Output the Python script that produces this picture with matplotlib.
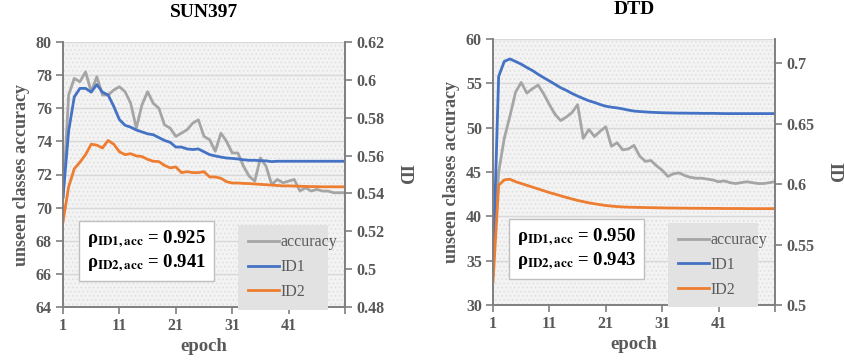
import matplotlib
matplotlib.use("Agg")
import matplotlib.pyplot as plt
from matplotlib.patches import Rectangle

plt.rcParams["font.family"] = ["Liberation Serif", "DejaVu Serif"]
plt.rcParams["mathtext.fontset"] = "stix"
plt.rcParams["hatch.linewidth"] = 0.6

epochs = list(range(1, 52))
epoch_ticks = [1, 11, 21, 31, 41, 51]
epoch_labels = ["1", "11", "21", "31", "41", ""]

# SUN397
sun_acc = [70.6, 76.8, 77.8, 77.6, 78.2, 77.0, 77.9, 76.8, 76.8, 77.1,
           77.3, 77.0, 76.3, 74.8, 76.2, 77.0, 76.3, 76.0, 75.0, 74.8,
           74.3, 74.5, 74.7, 75.1, 75.3, 74.3, 74.1, 73.4, 74.5, 74.0,
           73.3, 73.3, 72.5, 71.9, 71.6, 73.0, 72.5, 71.4, 71.7, 71.5,
           71.6, 71.7, 71.0, 71.2, 71.0, 71.1, 71.0, 71.0, 70.9, 70.9, 70.9]
sun_id1 = [0.538, 0.573, 0.591, 0.5955, 0.5955, 0.5935, 0.5975, 0.5935, 0.592, 0.586,
           0.579, 0.576, 0.575, 0.5735, 0.5725, 0.5715, 0.571, 0.5695, 0.568, 0.567,
           0.5645, 0.5645, 0.5635, 0.5632, 0.5635, 0.562, 0.5605, 0.5598, 0.5592, 0.5587,
           0.5585, 0.5582, 0.5578, 0.5575, 0.5575, 0.5573, 0.5572, 0.5568, 0.557, 0.557,
           0.557, 0.557, 0.557, 0.557, 0.557, 0.557, 0.557, 0.557, 0.557, 0.557, 0.557]
sun_id2 = [0.525, 0.5435, 0.553, 0.5565, 0.5605, 0.566, 0.5655, 0.564, 0.568, 0.566,
           0.562, 0.5605, 0.561, 0.5598, 0.5595, 0.558, 0.557, 0.5568, 0.5548, 0.5535,
           0.554, 0.551, 0.5515, 0.551, 0.551, 0.5515, 0.5487, 0.5487, 0.548, 0.5462,
           0.5455, 0.5455, 0.5453, 0.5452, 0.545, 0.5448, 0.5446, 0.5444, 0.5442, 0.544,
           0.544, 0.5439, 0.5438, 0.5437, 0.5436, 0.5436, 0.5435, 0.5435, 0.5435, 0.5435, 0.5435]

# DTD
dtd_acc = [34.2, 45.0, 48.8, 51.3, 54.0, 55.1, 53.9, 54.4, 54.8, 53.8,
           52.6, 51.5, 50.8, 51.2, 51.7, 52.6, 48.8, 49.8, 49.0, 49.6,
           50.1, 47.9, 48.3, 47.5, 47.6, 48.0, 46.8, 46.2, 46.3, 45.7,
           45.2, 44.5, 44.8, 44.9, 44.6, 44.4, 44.3, 44.3, 44.2, 44.1,
           43.9, 44.0, 43.8, 43.7, 43.8, 43.9, 43.8, 43.7, 43.7, 43.8, 43.9]
dtd_id1 = [0.531, 0.689, 0.7015, 0.7035, 0.7014, 0.6992, 0.6964, 0.6939, 0.6908, 0.688,
           0.6853, 0.6825, 0.6797, 0.6775, 0.675, 0.6728, 0.6708, 0.6689, 0.6675, 0.6658,
           0.6644, 0.6636, 0.663, 0.6622, 0.6612, 0.6604, 0.66, 0.6597, 0.6594, 0.6592,
           0.659, 0.6589, 0.6588, 0.6587, 0.6587, 0.6586, 0.6586, 0.6585, 0.6585, 0.6585,
           0.6584, 0.6583, 0.6583, 0.6583, 0.6583, 0.6583, 0.6583, 0.6583, 0.6583, 0.6583, 0.6583]
dtd_id2 = [0.519, 0.599, 0.6035, 0.604, 0.602, 0.6005, 0.599, 0.5975, 0.596, 0.5945,
           0.593, 0.5917, 0.5903, 0.589, 0.5877, 0.5865, 0.5855, 0.5845, 0.5837, 0.583,
           0.5823, 0.5818, 0.5814, 0.5811, 0.5809, 0.5808, 0.5807, 0.5806, 0.5805, 0.5804,
           0.5803, 0.5802, 0.5802, 0.5801, 0.5801, 0.58, 0.58, 0.58, 0.5799, 0.5799,
           0.5799, 0.5798, 0.5798, 0.5798, 0.5798, 0.5797, 0.5797, 0.5797, 0.5797, 0.5797, 0.5797]

panels = [
    dict(title="SUN397", acc=sun_acc, id1=sun_id1, id2=sun_id2,
         ylim=(64, 80), yticks=list(range(64, 81, 2)),
         y2lim=(0.48, 0.62), y2ticks=[0.48, 0.5, 0.52, 0.54, 0.56, 0.58, 0.6, 0.62],
         y2labels=["0.48", "0.5", "0.52", "0.54", "0.56", "0.58", "0.6", "0.62"],
         rho=("0.925", "0.941"),
         rect=[63 / 844, 55 / 362, 282 / 844, 265 / 362]),
    dict(title="DTD", acc=dtd_acc, id1=dtd_id1, id2=dtd_id2,
         ylim=(30, 60), yticks=list(range(30, 61, 5)),
         y2lim=(0.5, 0.72), y2ticks=[0.5, 0.55, 0.6, 0.65, 0.7],
         y2labels=["0.5", "0.55", "0.6", "0.65", "0.7"],
         rho=("0.950", "0.943"),
         rect=[493 / 844, 57 / 362, 282 / 844, 266 / 362]),
]

GRAY_TXT = "#595959"
AXIS_COL = "#7f7f7f"

fig = plt.figure(figsize=(8.44, 3.62), dpi=100)

for p in panels:
    ax = fig.add_axes(p["rect"])
    ax.set_facecolor("#f3f3f3")
    ax.add_patch(Rectangle((0, 0), 1, 1, transform=ax.transAxes, facecolor="none",
                           edgecolor="#dedede", hatch="....", linewidth=0, zorder=0))
    ax.set_axisbelow(True)
    ax.grid(axis="y", color="#d9d9d9", linewidth=1.0)

    l0, = ax.plot(epochs, p["acc"], color="#a5a5a5", linewidth=2.0, label="accuracy", zorder=2)
    ax.set_xlim(1, 51)
    ax.set_ylim(*p["ylim"])
    ax.set_yticks(p["yticks"])
    ax.set_xticks(epoch_ticks)
    ax.set_xticklabels(epoch_labels)

    ax2 = ax.twinx()
    l1, = ax2.plot(epochs, p["id1"], color="#4472c4", linewidth=2.0, label="ID1")
    l2, = ax2.plot(epochs, p["id2"], color="#ed7d31", linewidth=2.0, label="ID2")
    ax2.set_ylim(*p["y2lim"])
    ax2.set_yticks(p["y2ticks"])
    ax2.set_yticklabels(p["y2labels"])

    for a in (ax, ax2):
        a.spines["top"].set_visible(False)
        for s in ("left", "right", "bottom"):
            a.spines[s].set_color(AXIS_COL)
            a.spines[s].set_linewidth(1.2)
        a.tick_params(colors=AXIS_COL, labelcolor=GRAY_TXT, length=5, width=1.2,
                      labelsize=11.5, pad=3)
        for lab in a.get_yticklabels() + a.get_xticklabels():
            lab.set_fontweight("bold")

    ax.set_title(p["title"], fontsize=14, fontweight="bold", color="black", pad=18)
    ax.set_xlabel("epoch", fontsize=13.5, fontweight="bold", color=GRAY_TXT, labelpad=3)
    ax.set_ylabel("unseen classes accuracy", fontsize=13, fontweight="bold",
                  color=GRAY_TXT, labelpad=4)
    ax2.set_ylabel("ID", fontsize=13.5, fontweight="bold", color=GRAY_TXT,
                   rotation=270, labelpad=20)

    leg = ax2.legend(handles=[l0, l1, l2], loc="upper left",
                     bbox_to_anchor=(0.592, 0.04, 0.375, 0.30), mode="expand",
                     frameon=True, fancybox=False, fontsize=11.5, handlelength=2.0,
                     handletextpad=0.05, labelspacing=0.55, borderpad=0.6)
    leg.get_frame().set_facecolor("#e2e2e2")
    leg.get_frame().set_edgecolor("none")
    leg.get_frame().set_alpha(1)
    for t in leg.get_texts():
        t.set_color(GRAY_TXT)

    txt = ("\u03c1" + r"$_{\mathbf{ID1,acc}}$" + " = " + p["rho"][0] + "\n"
           + "\u03c1" + r"$_{\mathbf{ID2,acc}}$" + " = " + p["rho"][1])
    ax2.text(0.085, 0.21, txt, transform=ax2.transAxes, fontsize=13.5,
             fontweight="bold", color="black", va="center", ha="left",
             linespacing=1.15, zorder=5,
             bbox=dict(boxstyle="square,pad=0.4", facecolor="white",
                       edgecolor="#bfbfbf", linewidth=1.0))

fig.savefig("out.png", dpi=100)
